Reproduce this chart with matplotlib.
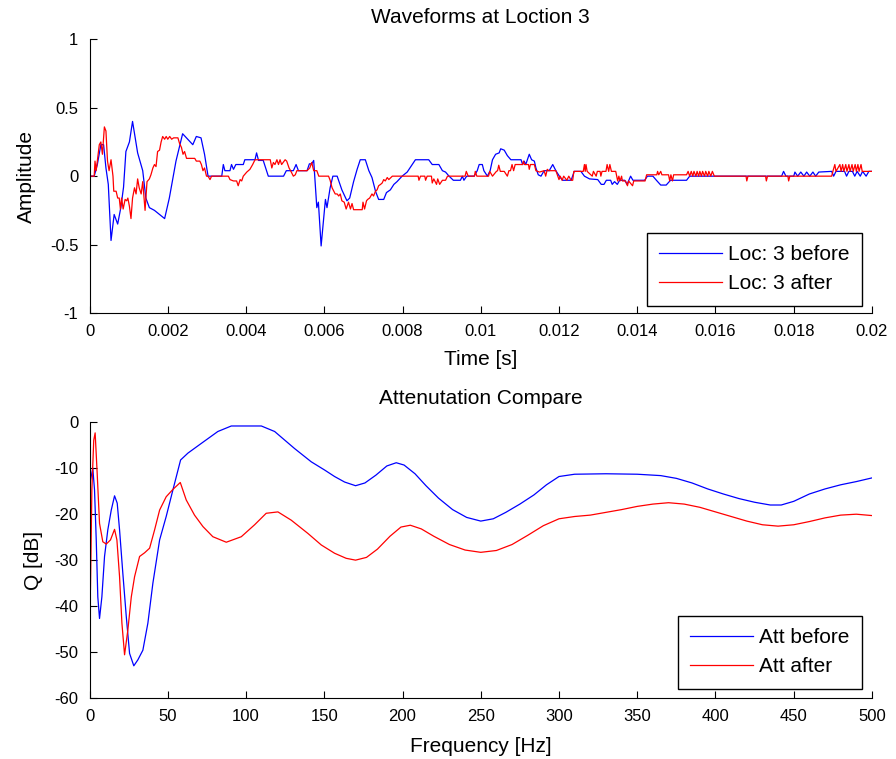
import numpy as np
import matplotlib
matplotlib.use("Agg")
import matplotlib.pyplot as plt
from matplotlib.ticker import FuncFormatter

plt.rcParams['font.family'] = ['Liberation Sans', 'DejaVu Sans']

# ---- Waveforms at location 3 (time in ms, amplitude) ----
time_before_ms = [0, 0.12, 0.2, 0.29, 0.36, 0.42, 0.48, 0.55, 0.63, 0.72, 0.80, 0.87, 0.93, 1.02, 1.10,
                  1.23, 1.36, 1.44, 1.53, 1.66, 1.79, 1.92, 2.04, 2.21, 2.38, 2.51, 2.64, 2.73, 2.85, 2.94,
                  3.03, 3.38, 3.42, 3.46, 3.59, 3.63, 3.68, 3.74, 3.93, 3.97, 4.23, 4.27, 4.32, 4.44, 4.57,
                  4.96, 5.03, 5.21, 5.28, 5.34, 5.56, 5.62, 5.68, 5.73, 5.77, 5.81, 5.85, 5.92, 6.03, 6.07,
                  6.15, 6.22, 6.33, 6.45, 6.58, 6.65, 6.75, 6.84, 6.92, 7.05, 7.14, 7.22, 7.31, 7.39, 7.52,
                  7.59, 7.69, 7.78, 7.86, 7.99, 8.12, 8.25, 8.33, 8.67, 8.76, 8.93, 9.02, 9.1, 9.19, 9.3,
                  9.48, 9.53, 9.57, 9.64, 9.83, 9.91, 9.96, 10.04, 10.08, 10.17, 10.24, 10.3, 10.38, 10.47,
                  10.51, 10.6, 10.68, 10.77, 11.03, 11.07, 11.11, 11.15, 11.24, 11.3, 11.37, 11.41, 11.47,
                  11.54, 11.62, 11.75, 11.84, 11.92, 12.01, 12.09, 12.31, 12.39, 12.56, 12.65, 12.78, 12.99,
                  13.08, 13.15, 13.21, 13.32, 13.36, 13.42, 13.49, 13.55, 13.68, 13.74, 13.83, 13.89, 14.19,
                  14.26, 14.4, 14.49, 14.6, 14.74, 14.85, 15.26, 15.34, 17.69, 17.74, 17.8, 18.0, 18.03,
                  18.1, 18.18, 18.26, 18.33, 18.41, 18.49, 18.56, 18.64, 18.97, 19.02, 19.08, 19.3, 19.35,
                  19.41, 19.5, 19.56, 19.62, 19.7, 19.76, 19.85, 19.92, 20.0]
amp_before = [0, 0, 0.085, 0.23, 0.23, 0.06, -0.06, -0.47, -0.28, -0.35, -0.23, -0.08, 0.18, 0.25, 0.40,
              0.17, 0.04, -0.16, -0.23, -0.25, -0.28, -0.31, -0.16, 0.11, 0.31, 0.27, 0.23, 0.29, 0.28, 0.16,
              0, 0, 0.085, 0.04, 0.04, 0.085, 0.05, 0.085, 0.085, 0.12, 0.12, 0.17, 0.115, 0.115, 0,
              0, 0.04, 0.04, 0.085, 0.04, 0.04, 0.09, 0.09, 0.115, -0.06, -0.23, -0.19, -0.51, -0.17, -0.23,
              -0.085, 0, 0, -0.1, -0.18, -0.16, -0.04, 0.05, 0.12, 0.12, 0.04, -0.01, -0.11, -0.17, -0.17,
              -0.12, -0.1, -0.06, -0.04, 0, 0.03, 0.085, 0.12, 0.12, 0.085, 0.085, 0.04, 0.03, 0, -0.03,
              -0.03, 0, -0.03, 0, 0, 0.04, 0.085, 0.085, 0.04, 0, 0.04, 0.12, 0.16, 0.17,
              0.2, 0.19, 0.15, 0.12, 0.12, 0.085, 0.11, 0.085, 0.16, 0.12, 0.11, 0.06, 0.01,
              0, 0.04, 0.04, 0.085, 0.04, 0, -0.03, -0.03, 0.035, 0.035, 0, -0.02, -0.025,
              -0.06, -0.06, -0.03, -0.03, -0.06, -0.04, -0.06, -0.03, -0.03, -0.06, 0, -0.03, -0.03,
              0, 0, -0.03, -0.065, -0.065, -0.03, -0.03, 0, 0, 0.035, 0, 0, 0.03,
              0, 0.03, 0, 0.03, 0, 0.03, 0, 0.03, 0.035, 0, 0.035, 0.035, 0,
              0.035, 0.035, 0, 0.035, 0, 0.035, 0, 0.035, 0.035]

time_after_ms = [0, 0.12, 0.14, 0.17, 0.2, 0.25, 0.29, 0.33, 0.38, 0.42, 0.46, 0.5, 0.55, 0.6, 0.62, 0.68,
                 0.72, 0.76, 0.79, 0.82, 0.86, 0.91, 0.95, 0.98, 1.02, 1.06, 1.1, 1.15, 1.19, 1.23, 1.27,
                 1.32, 1.36, 1.4, 1.42, 1.47, 1.53, 1.57, 1.62, 1.66, 1.7, 1.74, 1.79, 1.83, 1.87, 1.92,
                 1.96, 2.0, 2.05, 2.1, 2.15, 2.26, 2.3, 2.35, 2.39, 2.43, 2.48, 2.69, 2.73, 2.82, 2.86,
                 2.9, 2.94, 2.99, 3.03, 3.08, 3.12, 3.55, 3.59, 3.68, 3.76, 3.8, 3.85, 3.89, 3.93, 4.02,
                 4.06, 4.1, 4.17, 4.23, 4.62, 4.66, 4.7, 4.74, 4.79, 4.83, 4.87, 4.91, 5.0, 5.04, 5.1,
                 5.14, 5.21, 5.26, 5.3, 5.56, 5.63, 5.68, 5.73, 5.81, 5.86, 6.11, 6.15, 6.2, 6.28, 6.33,
                 6.37, 6.41, 6.45, 6.51, 6.56, 6.62, 6.67, 6.71, 6.75, 6.97, 6.99, 7.03, 7.08, 7.11, 7.16,
                 7.22, 7.26, 7.31, 7.35, 7.39, 7.44, 7.48, 7.52, 7.56, 7.61, 7.65, 7.74, 8.4, 8.42, 8.46,
                 8.57, 8.59, 8.63, 8.74, 8.76, 8.8, 8.87, 8.9, 8.95, 9.02, 9.1, 9.15, 9.6, 9.63, 9.68,
                 9.84, 9.86, 9.9, 10.2, 10.23, 10.3, 10.4, 10.43, 10.46, 10.5, 10.6, 10.68, 10.72, 10.76,
                 10.8, 10.84, 10.88, 11.07, 11.09, 11.12, 11.22, 11.24, 11.27, 11.37, 11.41, 11.5, 11.62,
                 11.66, 11.7, 11.74, 11.92, 11.97, 12.0, 12.03, 12.08, 12.12, 12.2, 12.25, 12.31, 12.35,
                 12.38, 12.52, 12.62, 12.65, 12.67, 12.69, 12.72, 12.85, 12.88, 12.95, 12.98, 13.05,
                 13.07, 13.1, 13.2, 13.23, 13.27, 13.3, 13.34, 13.45, 13.5, 13.53, 13.56, 13.6, 13.62,
                 13.7, 13.75, 13.78, 13.88, 13.91, 14.2, 14.24, 14.5, 14.52, 14.55, 14.6, 14.63, 14.8,
                 14.83, 14.86, 14.9, 14.93, 15.26, 15.3, 15.34, 15.38, 15.42, 15.45, 15.5, 15.53, 15.57,
                 15.6, 15.64, 15.67, 15.72, 15.75, 15.8, 15.83, 15.88, 15.92, 15.97, 16.78, 16.8, 16.83,
                 17.28, 17.3, 17.33, 17.85, 17.87, 17.9, 18.97, 19.0, 19.05, 19.08, 19.18, 19.21, 19.25,
                 19.28, 19.33, 19.36, 19.41, 19.44, 19.49, 19.52, 19.57, 19.6, 19.64, 19.67, 19.72,
                 19.75, 20.0]
amp_after = [0, 0, 0.11, 0.04, 0.11, 0.23, 0.25, 0.16, 0.36, 0.33, 0.11, 0.04, 0.12, 0, -0.11, -0.11,
             -0.16, -0.16, -0.24, -0.16, -0.24, -0.17, -0.18, -0.16, -0.22, -0.31, -0.16, -0.085, -0.13,
             -0.02, -0.085, -0.13, -0.04, -0.18, -0.25, -0.04, -0.02, 0.01, 0.06, 0.085, 0.07, 0.18,
             0.19, 0.25, 0.29, 0.27, 0.29, 0.27, 0.29, 0.27, 0.28, 0.28, 0.24, 0.21, 0.16, 0.18, 0.13,
             0.13, 0.11, 0.11, 0.085, 0.04, 0.06, 0, 0, -0.025, 0, 0, -0.025, -0.035, -0.035, -0.07,
             -0.025, -0.035, 0, 0.03, 0.04, 0.05, 0.085, 0.12, 0.12, 0.06, 0.1, 0.085, 0.12, 0.085,
             0.12, 0.085, 0.12, 0.11, 0.06, 0.04, 0, 0.01, 0.04, 0.04, 0.06, 0.1, 0.04, 0.04, 0, 0,
             -0.03, -0.085, -0.13, -0.13, -0.145, -0.13, -0.18, -0.19, -0.24, -0.19, -0.24, -0.20,
             -0.245, -0.245, -0.19, -0.24, -0.18, -0.17, -0.16, -0.13, -0.145, -0.11, -0.10, -0.07,
             -0.06, -0.05, -0.025, -0.035, -0.01, -0.025, 0, 0, -0.03, 0, 0, -0.03, 0, 0, -0.05,
             -0.02, -0.06, -0.02, -0.06, -0.03, -0.03, 0, 0, 0.035, 0, 0, 0.035, 0, 0, 0.035, 0,
             0.035, 0.04, 0.08, 0.035, 0.035, 0, 0.04, 0.04, 0.085, 0.04, 0.085, 0.085, 0.11, 0.085,
             0.085, 0.05, 0.085, 0.085, 0.04, 0.03, 0.04, 0, 0.05, 0.04, 0.04, 0, -0.025, 0, -0.03,
             0, -0.03, 0, -0.03, -0.03, 0.035, 0.035, 0.035, 0.085, 0.035, 0.085, 0.035, 0, 0.035,
             0, 0.035, 0.035, 0, 0.035, 0.035, 0.085, 0.035, 0.085, 0.035, 0.035, -0.035, 0, -0.035,
             0, -0.035, -0.035, -0.07, -0.035, -0.07, -0.035, -0.035, 0.01, 0.01, 0.035, 0.01, 0.035,
             0.01, 0.01, -0.035, 0.01, -0.035, 0.01, 0.01, 0.035, 0, 0.035, 0, 0.035, 0, 0.035, 0,
             0.035, 0, 0.035, 0, 0.035, 0, 0.035, 0, 0.035, 0, 0, -0.035, 0, 0, -0.035, 0, 0,
             -0.035, 0, 0, 0.035, 0.085, 0.035, 0.085, 0.035, 0.085, 0.035, 0.085, 0.035, 0.085,
             0.035, 0.085, 0.035, 0.085, 0.035, 0.085, 0.035, 0.085, 0.035, 0.035]

# ---- Attenuation spectra (Hz, dB) ----
freq_before = [0, 0.6, 2.1, 3.2, 4.3, 5.3, 6.4, 7.9, 9.6, 11.7, 13.9, 16, 17.7, 19.2, 21.3, 23.5, 25.6,
               28.3, 30.9, 34.1, 37.3, 40.5, 44.8, 49, 53.3, 58.2, 62.9, 71.4, 82, 90.6, 109.8, 118.3,
               131, 141.7, 150.3, 156.6, 163, 170, 176, 183, 190, 196, 201, 208, 215, 223, 232, 241,
               250, 258, 266, 275, 284, 292, 300, 310, 330, 350, 365, 375, 385, 395, 405, 415, 425,
               435, 442, 450, 460, 470, 480, 490, 500]
q_before = [-17.6, -12.6, -10.0, -14.7, -25.6, -38, -42.7, -38, -29.2, -23.4, -19.1, -16.0, -17.6, -23.4,
            -32.9, -42.3, -50.3, -53.0, -51.7, -49.6, -43.7, -35, -25.6, -20.5, -14.7, -8.2, -6.7, -4.6,
            -2.0, -0.8, -0.8, -2.0, -5.7, -8.6, -10.4, -11.8, -13, -13.8, -13.2, -11.5, -9.5, -8.8,
            -9.3, -11.2, -13.8, -16.5, -19, -20.7, -21.5, -21, -19.6, -17.8, -15.8, -13.6, -11.8,
            -11.3, -11.2, -11.3, -11.6, -12.2, -13.2, -14.5, -15.6, -16.6, -17.4, -18, -18, -17.2,
            -15.6, -14.5, -13.6, -12.9, -12.1]

freq_after = [0, 0.6, 1.5, 2.7, 3.6, 4.9, 6.4, 8.5, 10.7, 13.4, 16, 17.5, 19.2, 20.7, 22.4, 24.5, 26.7,
              28.8, 32, 35.2, 38.4, 41.6, 44.8, 49, 53.3, 58, 61.8, 67.1, 72.5, 78.8, 87.4, 97, 105.5,
              112.9, 120.4, 128.9, 139.6, 148.1, 156.6, 164, 170, 177, 184, 192, 199, 205, 212, 220,
              230, 240, 250, 260, 270, 280, 290, 300, 310, 320, 330, 340, 350, 360, 370, 380, 390,
              400, 410, 420, 430, 440, 450, 460, 470, 480, 490, 500]
q_after = [-27, -36.5, -14.7, -3.9, -2.3, -11.1, -22, -26, -26.5, -25.6, -23.3, -25.6, -33.6, -43.7,
           -50.6, -45.2, -38, -33.6, -29.2, -28.4, -27.4, -23.4, -19.1, -16.2, -14.6, -13.1, -16.9,
           -20.2, -22.7, -24.9, -26.1, -24.9, -22.3, -19.8, -19.5, -21.3, -24.2, -26.7, -28.5, -29.6,
           -30, -29.4, -27.6, -24.8, -22.8, -22.4, -23.2, -24.8, -26.6, -27.8, -28.3, -27.9, -26.6,
           -24.6, -22.5, -21, -20.5, -20.2, -19.6, -19, -18.3, -17.8, -17.5, -17.8, -18.5, -19.5,
           -20.5, -21.5, -22.3, -22.6, -22.3, -21.6, -20.8, -20.2, -20, -20.3]

time_ticks = [0, 0.002, 0.004, 0.006, 0.008, 0.01, 0.012, 0.014, 0.016, 0.018, 0.02]
amp_ticks = [-1, -0.5, 0, 0.5, 1]
freq_ticks = [0, 50, 100, 150, 200, 250, 300, 350, 400, 450, 500]
q_ticks = [-60, -50, -40, -30, -20, -10, 0]

TICK_FS = 12
TEXT_FS = 15
fig = plt.figure(figsize=(8.96, 7.59), dpi=100)
ax1 = fig.add_axes([0.0999, 0.5876, 0.8733, 0.3606])
ax2 = fig.add_axes([0.0999, 0.0804, 0.8733, 0.3632])

fmt = FuncFormatter(lambda v, p: ('%g' % v))


def style(ax):
    for s in ('top', 'right'):
        ax.spines[s].set_visible(False)
    for s in ('left', 'bottom'):
        ax.spines[s].set_color('black')
        ax.spines[s].set_linewidth(0.8)
    ax.tick_params(direction='in', length=5, width=0.8, labelsize=TICK_FS, colors='black', pad=8)
    ax.xaxis.set_major_formatter(fmt)
    ax.yaxis.set_major_formatter(fmt)


def add_legend(ax, y0):
    leg = ax.legend(loc='lower right', bbox_to_anchor=(0.987, y0), fontsize=TEXT_FS, frameon=True,
                    fancybox=False, edgecolor='black', framealpha=1, handlelength=3.0,
                    handletextpad=0.3, labelspacing=0.48, borderpad=0.6, borderaxespad=0)
    leg.get_frame().set_linewidth(1.0)
    return leg


t_b = np.array(time_before_ms) / 1000.0
t_a = np.array(time_after_ms) / 1000.0
ax1.plot(t_b, amp_before, color='#0000ff', lw=0.9, label='Loc: 3 before')
ax1.plot(t_a, amp_after, color='#ff0000', lw=0.9, label='Loc: 3 after')
ax1.set_xlim(0, 0.02)
ax1.set_ylim(-1, 1)
ax1.set_xticks(time_ticks)
ax1.set_yticks(amp_ticks)
style(ax1)
ax1.set_title('Waveforms at Loction 3', fontsize=TEXT_FS, pad=12)
ax1.set_xlabel('Time [s]', fontsize=TEXT_FS, labelpad=8)
ax1.set_ylabel('Amplitude', fontsize=TEXT_FS, labelpad=10)
add_legend(ax1, 0.026)

ax2.plot(freq_before, q_before, color='#0000ff', lw=0.9, label='Att before')
ax2.plot(freq_after, q_after, color='#ff0000', lw=0.9, label='Att after')
ax2.set_xlim(0, 500)
ax2.set_ylim(-60, 0)
ax2.set_xticks(freq_ticks)
ax2.set_yticks(q_ticks)
style(ax2)
ax2.set_title('Attenutation Compare', fontsize=TEXT_FS, pad=13)
ax2.set_xlabel('Frequency [Hz]', fontsize=TEXT_FS, labelpad=9)
ax2.set_ylabel('Q [dB]', fontsize=TEXT_FS, labelpad=8)
add_legend(ax2, 0.033)

fig.savefig('out.png', dpi=100)
